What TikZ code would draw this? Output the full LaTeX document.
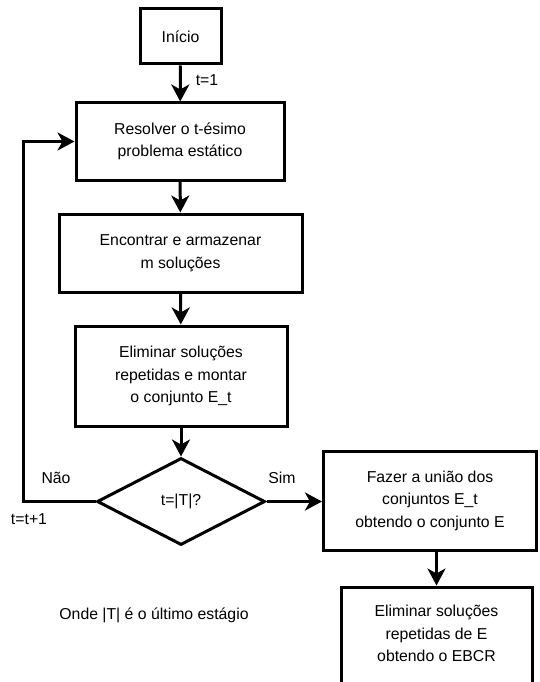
\documentclass[tikz,border=0pt]{standalone}
\usepackage{fontspec}
\setmainfont{Liberation Sans}
\usetikzlibrary{shapes.geometric,arrows.meta}
\begin{document}
\begin{tikzpicture}[x=1pt,y=-1pt,
  every node/.style={font=\fontsize{15.8}{22.5}\selectfont, inner sep=0pt},
  box/.style={draw, line width=3pt, rectangle, align=center},
  dec/.style={draw, line width=3pt, diamond, align=center, minimum width=168pt, minimum height=87pt},
  flow/.style={line width=3pt, -{Stealth[length=17pt,width=18pt,inset=5pt]}},
  lbl/.style={align=center}]
\useasboundingbox (0,0) rectangle (539,682);
\node[box, minimum width=81pt, minimum height=55pt] (start) at (180.5,36.5) {Início};
\node[box, minimum width=208pt, minimum height=77pt] (solve) at (180,141.5) {Resolver o t-ésimo\\problema estático};
\node[box, minimum width=243pt, minimum height=78pt] (find) at (180.5,253) {Encontrar e armazenar\\m soluções};
\node[box, minimum width=212pt, minimum height=100pt] (elim) at (181,376) {Eliminar soluções\\repetidas e montar\\o conjunto E\_t};
\node[dec] (test) at (181,501.5) {t=|T|?};
\node[box, minimum width=213pt, minimum height=99pt] (union) at (430,500.5) {Fazer a união dos\\conjuntos E\_t\\obtendo o conjunto E};
\node[box, minimum width=191pt, minimum height=110pt] (final) at (436.5,642) {};
\node[lbl] (finaltext) at (436.5,633.5) {Eliminar soluções\\repetidas de E\\obtendo o EBCR};
\coordinate (loop) at (23,501.5);
\draw[flow] (start) -- node[right=14pt, pos=0.4] (t1) {t=1} (solve);
\draw[flow] (solve) -- (find);
\draw[flow] (find) -- (elim);
\draw[flow] (elim) -- (test);
\draw[flow] (test.west) -- (loop) |- (solve.west);
\draw[flow] (test.east) -- (test.east -| union.west);
\draw[flow] (union.south -| final.north) -- (final.north);
\node[lbl] (nao) at (56,478) {Não};
\node[lbl] (inc) at (29,519) {t=t+1};
\node[lbl] (sim) at (282,478) {Sim};
\node[lbl] (note) at (154,615) {Onde |T| é o último estágio};
\end{tikzpicture}
\end{document}
